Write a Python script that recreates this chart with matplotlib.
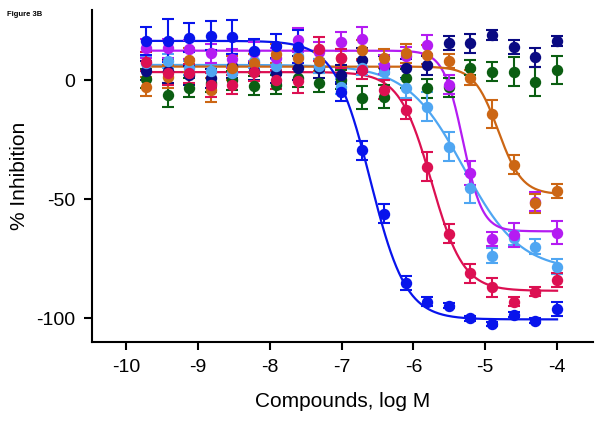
import numpy as np
import matplotlib
matplotlib.use('Agg')
import matplotlib.pyplot as plt

plt.rcParams['font.family'] = ['Liberation Sans', 'DejaVu Sans']

# log M concentrations (2-fold dilutions from 100 uM)
log_conc = [-9.72, -9.42, -9.12, -8.82, -8.52, -8.22, -7.92, -7.61, -7.31, -7.01,
            -6.71, -6.41, -6.11, -5.81, -5.51, -5.21, -4.90, -4.60, -4.30, -4.00]

nan = np.nan

# % inhibition, mean values per compound
blue = [16.5, 16.5, 17.9, 18.7, 18.2, 12.3, 14.5, 14.1, nan, -4.8,
        -29.5, -56.2, -85.3, -93.0, -94.8, -100.0, -102.4, -98.6, -101.0, -96.2]
navy = [4.0, 4.0, 2.0, 0.8, 6.0, 4.0, 3.0, 5.0, 5.0, 2.2,
        8.5, 5.0, 5.0, 6.2, 15.5, 15.5, 19.0, 13.9, 9.7, 16.5]
green = [0.5, -6.2, -3.1, -1.0, 0.0, -2.4, -2.0, 1.0, -1.1, 0.1,
         -7.3, -6.9, 0.8, -3.4, -3.0, 5.3, 3.6, 3.6, -0.6, 4.3]
orange = [-2.7, 1.5, 8.5, -4.1, 5.0, 7.0, 11.0, 9.2, 8.0, 9.2,
          12.7, 9.2, 11.3, 10.6, 8.1, 1.1, -14.2, -35.6, -51.7, -46.5]
purple = [13.4, 13.4, 13.0, 11.3, 9.0, 12.0, 9.5, 16.9, 12.0, 16.2,
          17.3, 6.4, 10.0, 14.8, -2.0, -39.1, -66.8, -65.0, -51.0, -64.0]
lightblue = [7.0, 8.0, 5.0, 4.0, 3.0, 8.0, 6.0, 10.0, 6.0, -2.7,
             5.0, 3.6, -3.4, -11.1, -27.9, -45.4, -73.7, -66.4, -69.9, -78.3]
crimson = [7.8, 2.9, 2.9, -2.0, -2.0, 3.6, 0.1, -0.2, 13.2, 9.2,
           4.3, -4.1, -12.5, -36.3, -64.6, -81.1, -87.0, -93.0, -88.8, -83.9]

# SEM
blue_err = [6, 9, 6, 6, 7, 5, 5, 7, nan, 4, 4, 4, 3, 2, 1, 1, 1, 1, 1, 3]
navy_err = [4, 5, 4, 4, 5, 4, 4, 5, 4, 4, 5, 5, 4, 4, 3, 4, 2, 3, 4, 2]
green_err = [4, 5, 4, 4, 4, 4, 4, 4, 4, 4, 5, 5, 4, 4, 4, 3, 4, 6, 6, 6]
orange_err = [4, 5, 5, 5, 5, 4, 4, 4, 4, 4, 4, 4, 4, 4, 3, 3, 6, 4, 4, 3]
purple_err = [4, 4, 4, 4, 4, 4, 4, 5, 4, 4, 5, 4, 4, 4, 4, 5, 3, 5, 4, 5]
lightblue_err = [3, 3, 3, 3, 3, 3, 3, 3, 3, 3, 3, 3, 4, 6, 6, 6, 3, 3, 3, 3]
crimson_err = [4, 5, 4, 5, 4, 4, 4, 5, 5, 4, 4, 4, 4, 6, 4, 4, 4, 2, 2, 3]

# 4PL fit parameters: top, bottom, logIC50, hill
blue_fit = [16.5, -100.5, -6.60, 1.75]
orange_fit = [5.7, -48.0, -4.82, 2.6]
purple_fit = [12.4, -63.5, -5.31, 3.2]
lightblue_fit = [6.4, -80.0, -5.30, 1.1]
crimson_fit = [3.4, -88.5, -5.75, 1.95]

series = [
    (green, green_err, None, '#0b5e12'),
    (navy, navy_err, None, '#0a0a82'),
    (lightblue, lightblue_err, lightblue_fit, '#4fa6f2'),
    (purple, purple_err, purple_fit, '#b41cf2'),
    (orange, orange_err, orange_fit, '#cc6614'),
    (crimson, crimson_err, crimson_fit, '#dc1052'),
    (blue, blue_err, blue_fit, '#0814ec'),
]

fig = plt.figure(figsize=(6.01, 4.23), dpi=100)
ax = fig.add_axes([0.1526, 0.1915, 0.834, 0.785])

xfit = np.linspace(log_conc[0], log_conc[-1], 300)
for vals, err, fit, col in series:
    if fit is not None:
        top, bot, ic50, hill = fit
        yfit = bot + (top - bot) / (1 + 10 ** ((xfit - ic50) * hill))
        ax.plot(xfit, yfit, color=col, lw=1.6, zorder=2)
    ax.errorbar(log_conc, vals, yerr=err, fmt='o', color=col, ms=7.2,
                elinewidth=1.5, capsize=4.3, capthick=1.5, zorder=3)

ax.set_xlim(-10.48, -3.5)
ax.set_ylim(-110, 29.5)
ax.set_xticks([-10, -9, -8, -7, -6, -5, -4])
ax.set_xticklabels(['-10', '-9', '-8', '-7', '-6', '-5', '-4'])
ax.set_yticks([0, -50, -100])
ax.set_yticklabels(['0', '-50', '-100'])
ax.spines['top'].set_visible(False)
ax.spines['right'].set_visible(False)
ax.spines['left'].set_linewidth(1.5)
ax.spines['bottom'].set_linewidth(1.5)
ax.tick_params(direction='out', length=6, width=1.5, labelsize=14, pad=6)

ax.set_xlabel('Compounds, log M', fontsize=15, labelpad=12)
ax.set_ylabel('% Inhibition', fontsize=15, labelpad=5)

fig.text(0.012, 0.975, 'Figure 3B', fontsize=5.5, fontweight='bold', va='top')

plt.savefig('out.png', dpi=100)
